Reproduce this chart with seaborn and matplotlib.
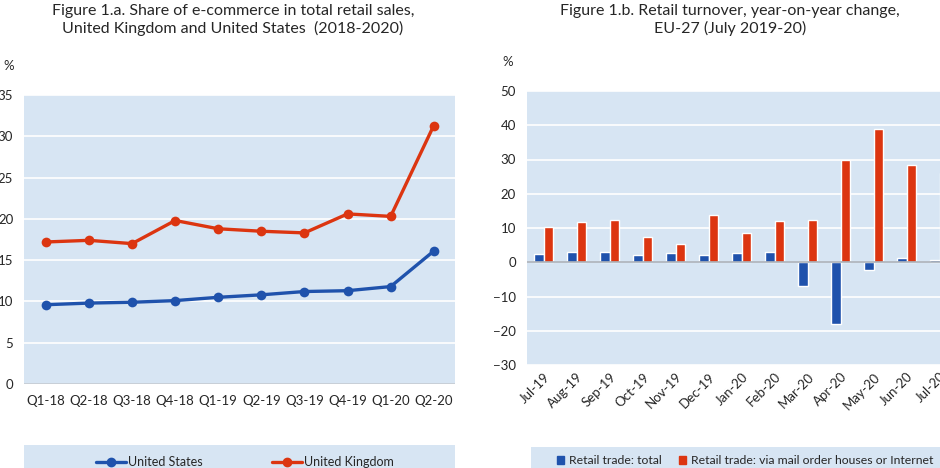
import numpy as np
import pandas as pd
import seaborn as sns
import matplotlib.pyplot as plt
from matplotlib.lines import Line2D
from matplotlib.patches import Patch

# left panel: share of e-commerce in total retail sales (%)
quarters = ["Q1-18", "Q2-18", "Q3-18", "Q4-18", "Q1-19", "Q2-19", "Q3-19", "Q4-19", "Q1-20", "Q2-20"]
us_share = [9.6, 9.8, 9.9, 10.1, 10.5, 10.8, 11.2, 11.3, 11.8, 16.1]
uk_share = [17.2, 17.4, 17.0, 19.8, 18.8, 18.5, 18.3, 20.6, 20.3, 31.3]

# right panel: retail turnover, year-on-year change (%)
months = ["Jul-19", "Aug-19", "Sep-19", "Oct-19", "Nov-19", "Dec-19", "Jan-20",
          "Feb-20", "Mar-20", "Apr-20", "May-20", "Jun-20", "Jul-20"]
retail_total = [2.5, 2.9, 3.0, 2.2, 2.6, 2.1, 2.6, 3.0, -7.0, -17.9, -2.4, 1.3, 0.7]
retail_internet = [10.2, 11.7, 12.2, 7.4, 5.3, 13.8, 8.6, 12.0, 12.4, 29.9, 38.8, 28.5, 26.0]

BLUE = "#1F52AC"
RED = "#DC3510"
BG = "#D7E5F3"
TXT = "#262626"

sns.set_style("white")
plt.rcParams["font.family"] = ["Lato", "DejaVu Sans"]

fig = plt.figure(figsize=(9.4, 4.68), dpi=100)
W, H = 940, 468

def px_axes(x0, y_top, x1, y_bot):
    return fig.add_axes([x0 / W, (H - y_bot) / H, (x1 - x0) / W, (y_bot - y_top) / H])

def bare(ax):
    ax.set_facecolor(BG)
    ax.set_xticks([])
    ax.set_yticks([])
    for s in ax.spines.values():
        s.set_visible(False)

# ---- left: line chart
ax1 = px_axes(24.3, 95, 455.3, 384)
line_df = pd.DataFrame({
    "quarter": quarters * 2,
    "share": us_share + uk_share,
    "country": ["United States"] * len(quarters) + ["United Kingdom"] * len(quarters),
})
ax1.set_facecolor(BG)
sns.lineplot(data=line_df, x="quarter", y="share", hue="country",
             palette={"United States": BLUE, "United Kingdom": RED},
             marker="o", markersize=7, markeredgewidth=0, linewidth=2.4,
             legend=False, ax=ax1, zorder=3)
ax1.set_xlim(-0.5, len(quarters) - 0.5)
ax1.set_ylim(0, 35)
ax1.set_yticks(range(0, 36, 5))
ax1.grid(axis="y", color="white", linewidth=1.2)
ax1.axhline(0, color="#BFC7D0", linewidth=1.2)
ax1.set_xlabel("")
ax1.set_ylabel("")
for s in ax1.spines.values():
    s.set_visible(False)
ax1.tick_params(axis="both", length=0, labelsize=9.5, colors=TXT)
ax1.tick_params(axis="x", pad=8)
ax1.tick_params(axis="y", pad=8)
fig.text(9 / W, 1 - 66 / H, "%", fontsize=9.5, color=TXT, ha="center", va="center")
fig.text(233 / W, 1 - 20 / H,
         "Figure 1.a. Share of e-commerce in total retail sales,\nUnited Kingdom and United States  (2018-2020)",
         ha="center", va="center", fontsize=11.5, color=TXT, linespacing=1.3)

# legend box left
lg1 = px_axes(24.3, 445, 455.3, 470)
bare(lg1)
h1 = [Line2D([], [], color=BLUE, marker="o", markersize=6, linewidth=2.4),
      Line2D([], [], color=RED, marker="o", markersize=6, linewidth=2.4)]
lg1.legend(h1, ["United States", "United Kingdom"], ncol=2, loc="upper center",
           bbox_to_anchor=(0.512, 1.0), frameon=False, fontsize=9,
           handlelength=2.4, handletextpad=0.15, columnspacing=5.6)

# ---- right: grouped bars
ax2 = px_axes(527.2, 91, 956.2, 365)
bar_df = pd.DataFrame({
    "month": months * 2,
    "change": retail_total + retail_internet,
    "series": ["Retail trade: total"] * len(months)
              + ["Retail trade: via mail order houses or Internet"] * len(months),
})
ax2.set_facecolor(BG)
sns.barplot(data=bar_df, x="month", y="change", hue="series",
            palette=[BLUE, RED], width=0.57, gap=0, saturation=1,
            legend=False, ax=ax2, zorder=3)
ax2.set_xlim(-0.5, len(months) - 0.5)
ax2.set_ylim(-30, 50)
ax2.set_yticks(range(-30, 51, 10))
ax2.grid(axis="y", color="white", linewidth=1.2)
ax2.axhline(0, color="#A8AFB8", linewidth=1.2, zorder=4)
ax2.set_xlabel("")
ax2.set_ylabel("")
for s in ax2.spines.values():
    s.set_visible(False)
ax2.tick_params(axis="both", length=0, labelsize=9.5, colors=TXT)
ax2.tick_params(axis="y", pad=8)
ax2.tick_params(axis="x", pad=4)
for lab in ax2.get_xticklabels():
    lab.set_rotation(45)
    lab.set_ha("right")
    lab.set_rotation_mode("anchor")
fig.text(508 / W, 1 - 62 / H, "%", fontsize=9.5, color=TXT, ha="center", va="center")
fig.text(730 / W, 1 - 20 / H,
         "Figure 1.b. Retail turnover, year-on-year change,\nEU-27 (July 2019-20)",
         ha="center", va="center", fontsize=11.5, color=TXT, linespacing=1.3)

lg2 = px_axes(531, 447, 960, 470)
bare(lg2)
h2 = [Patch(color=BLUE), Patch(color=RED)]
lg2.legend(h2, ["Retail trade: total", "Retail trade: via mail order houses or Internet"],
           ncol=2, loc="upper left", bbox_to_anchor=(0.035, 1.12), frameon=False,
           fontsize=8.8, handlelength=0.6, handleheight=0.6, handletextpad=0.4,
           columnspacing=1.4)

fig.savefig("out.png", dpi=100)
